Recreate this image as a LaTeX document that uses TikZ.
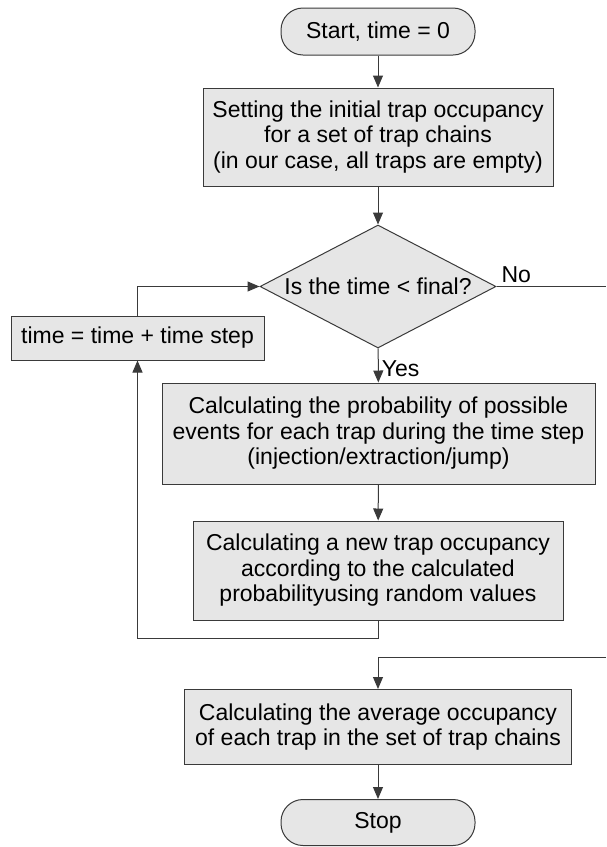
\documentclass[tikz,border=0pt]{standalone}
\usepackage{fontspec}
\setmainfont{Liberation Sans}
\usetikzlibrary{shapes.geometric,arrows.meta}
\definecolor{boxfill}{HTML}{E6E6E6}
\definecolor{edge}{HTML}{3A3A3A}
\begin{document}
\begin{tikzpicture}[x=1pt,y=-1pt,
  every node/.style={font=\fontsize{23}{25.5}\selectfont, inner sep=0pt, align=center},
  proc/.style={draw=edge, fill=boxfill, line width=1pt},
  term/.style={proc, rounded corners=22pt},
  dec/.style={proc, diamond, aspect=1.92},
  conn/.style={draw=edge, line width=1pt},
  arr/.style={conn, -{Triangle[length=12pt,width=10pt]}}]
\useasboundingbox (0,0) rectangle (606,847);
\node[term, minimum width=194pt, minimum height=47pt] (start) at (378,31.5) {Start, time = 0};
\node[proc, minimum width=350pt, minimum height=98pt] (init) at (378,137) {Setting the initial trap occupancy\\for a set of trap chains\\(in our case, all traps are empty)};
\node[dec, minimum width=236pt, minimum height=123pt] (test) at (378,286.5) {Is the time < final?};
\node[proc, minimum width=253pt, minimum height=44pt] (inc) at (137.5,338) {time = time + time step};
\node[proc, minimum width=433pt, minimum height=101pt] (prob) at (378.5,433.5) {Calculating the probability of possible\\events for each trap during the time step\\(injection/extraction/jump)};
\node[proc, minimum width=370pt, minimum height=99pt] (occ) at (378,570.5) {Calculating a new trap occupancy\\according to the calculated\\probabilityusing random values};
\node[proc, minimum width=387pt, minimum height=75pt] (avg) at (378,727) {Calculating the average occupancy\\of each trap in the set of trap chains};
\node[term, minimum width=194pt, minimum height=46pt] (stop) at (378,822.5) {Stop};
\coordinate (noend) at (606,286.5);
\coordinate (nostart) at (606,657);
\coordinate (loopR) at (378,638);
\coordinate (loopL) at (137.5,638);
\coordinate (incup) at (137.5,286.5);
\coordinate (avgin) at (378,657);
\draw[arr] (start) -- (init);
\draw[arr] (init) -- (test);
\draw[arr] (test) -- node[anchor=west, xshift=3pt, yshift=-3pt] (yes) {Yes} (prob);
\draw[arr] (prob) -- (occ);
\draw[arr] (occ.south) -- (loopR) -- (loopL) -- (inc.south);
\draw[arr] (inc.north) -- (incup) -- (test.west);
\draw[conn] (test.east) -- node[anchor=south, pos=0.18, yshift=3pt] (no) {No} (noend);
\draw[arr] (nostart) -- (avgin) -- (avg.north);
\draw[arr] (avg) -- (stop);
\end{tikzpicture}
\end{document}
